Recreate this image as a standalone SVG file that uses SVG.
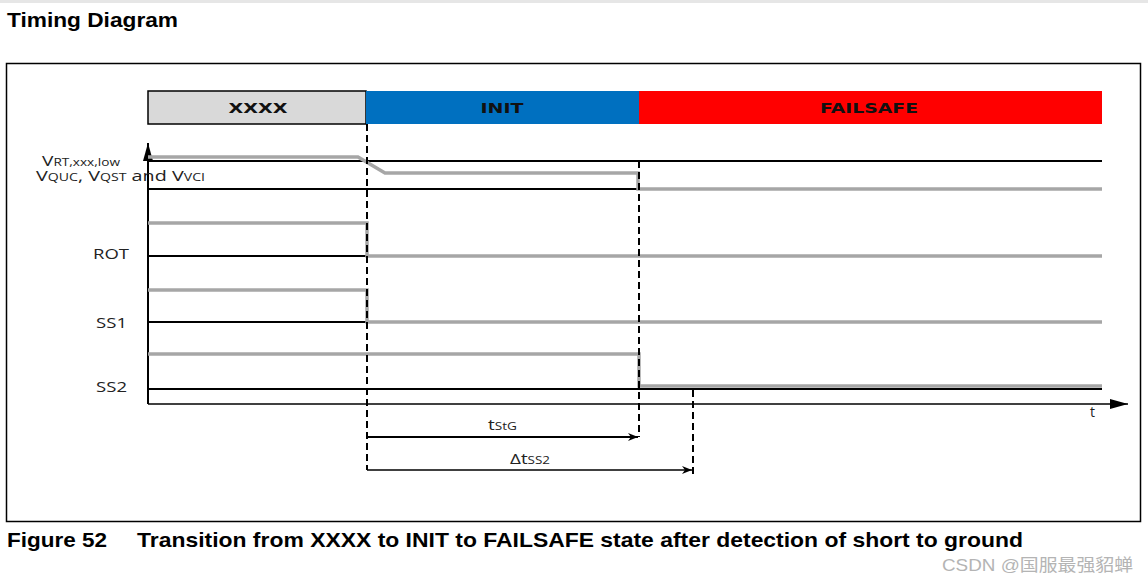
<svg xmlns="http://www.w3.org/2000/svg" width="1148" height="583" viewBox="0 0 1148 583">
<style>
.blk{stroke:#000;stroke-width:2;fill:none}
.sig{stroke:#a6a6a6;stroke-width:3.5;fill:none;stroke-linejoin:miter}
.dash{stroke:#000;stroke-width:2;stroke-dasharray:7,4;fill:none}
.state{font-family:"DejaVu Sans",Verdana,sans-serif;font-weight:bold;font-size:14px;fill:#111;text-anchor:middle}
.lbl{font-family:"Open Sans","Noto Sans",sans-serif;font-size:14px;fill:#222}
.sub{font-size:10px}
.hd{font-family:"Liberation Sans",Arial,sans-serif;font-weight:bold;font-size:21px;fill:#000}
</style>
<defs>
<marker id="ah" markerWidth="10" markerHeight="8" refX="10" refY="4" orient="auto" markerUnits="userSpaceOnUse">
<path d="M0,0 L10,4 L0,8 L3,4 Z" fill="#000"/>
</marker>
<marker id="ahBig" markerWidth="18" markerHeight="10" refX="18" refY="5" orient="auto" markerUnits="userSpaceOnUse">
<path d="M0,0 L18,5 L0,10 Z" fill="#000"/>
</marker>
</defs>
<rect width="1148" height="583" fill="#fff"/>
<rect x="0" y="0" width="1148" height="3" fill="#e6e6e6"/>
<text class="hd" x="7" y="27" textLength="171" lengthAdjust="spacingAndGlyphs">Timing Diagram</text>
<rect x="6.5" y="63.5" width="1134" height="458" fill="none" stroke="#000" stroke-width="1.5"/>

<g id="state-xxxx">
<rect x="148" y="91" width="218" height="33" fill="#d9d9d9" stroke="#000" stroke-width="1.5"/>
<text class="state" x="258" y="113" textLength="59" lengthAdjust="spacingAndGlyphs">XXXX</text>
</g>
<g id="state-init">
<rect x="366" y="91" width="273" height="33" fill="#0070c0"/>
<text class="state" x="502" y="113" textLength="43" lengthAdjust="spacingAndGlyphs">INIT</text>
</g>
<g id="state-failsafe">
<rect x="639" y="91" width="463" height="33" fill="#ff0000"/>
<text class="state" x="869" y="113" textLength="98" lengthAdjust="spacingAndGlyphs">FAILSAFE</text>
</g>

<g id="axes">
<line class="blk" x1="148" y1="404" x2="148" y2="143" marker-end="url(#ahBig)"/>
<line x1="148" y1="404" x2="1128" y2="404" stroke="#000" stroke-width="1.5" marker-end="url(#ahBig)"/>
<text class="lbl" x="1090" y="417">t</text>
</g>

<g id="reference-lines">
<line class="blk" x1="148" y1="161" x2="1102" y2="161"/>
<line class="blk" x1="148" y1="189" x2="639" y2="189"/>
<line class="blk" x1="148" y1="256" x2="1102" y2="256"/>
<line class="blk" x1="148" y1="322" x2="1102" y2="322"/>
<line class="blk" x1="148" y1="389" x2="1102" y2="389"/>
</g>

<g id="signal-v">
<polyline class="sig" points="148,157 358,157 385,173 638,173 638,189 1102,189" stroke-width="3"/>
</g>
<g id="signal-rot">
<polyline class="sig" points="148,223 367,223 367,256 1102,256"/>
</g>
<g id="signal-ss1">
<polyline class="sig" points="148,290 367,290 367,322 1102,322"/>
</g>
<g id="signal-ss2">
<polyline class="sig" points="148,354 639,354 639,386 1102,386"/>
</g>

<g id="labels">
<text class="lbl" x="42" y="166" font-size="15" textLength="78" lengthAdjust="spacingAndGlyphs">V<tspan class="sub" font-size="11">RT,xxx,low</tspan></text>
<text class="lbl" x="36" y="181" font-size="15" textLength="169" lengthAdjust="spacingAndGlyphs">V<tspan class="sub" font-size="11">QUC</tspan>, V<tspan class="sub" font-size="11">QST</tspan> and V<tspan class="sub" font-size="11">VCI</tspan></text>
<text class="lbl" x="93" y="259" textLength="36" lengthAdjust="spacingAndGlyphs">ROT</text>
<text class="lbl" x="96" y="328" textLength="31" lengthAdjust="spacingAndGlyphs">SS1</text>
<text class="lbl" x="96" y="392" textLength="31" lengthAdjust="spacingAndGlyphs">SS2</text>
</g>

<g id="connectors">
<line class="dash" x1="367" y1="124" x2="367" y2="470"/>
<line class="dash" x1="639" y1="161" x2="639" y2="437"/>
<line class="dash" x1="693" y1="390" x2="693" y2="477" stroke-width="3"/>
<line x1="367" y1="437" x2="638" y2="437" stroke="#000" stroke-width="2" marker-end="url(#ah)"/>
<line x1="367" y1="470" x2="692" y2="470" stroke="#000" stroke-width="1.3" marker-end="url(#ah)"/>
<text class="lbl" x="488" y="430" font-size="16" textLength="29" lengthAdjust="spacingAndGlyphs">t<tspan class="sub" font-size="11">StG</tspan></text>
<text class="lbl" x="510" y="464" font-size="16" textLength="40" lengthAdjust="spacingAndGlyphs">Δt<tspan class="sub" font-size="11">SS2</tspan></text>
</g>

<text class="hd" x="7" y="547" textLength="100" lengthAdjust="spacingAndGlyphs">Figure 52</text>
<text class="hd" x="137" y="547" textLength="886" lengthAdjust="spacingAndGlyphs">Transition from XXXX to INIT to FAILSAFE state after detection of short to ground</text>
<text x="942" y="571" font-family="'Liberation Sans','Noto Sans CJK SC',sans-serif" font-size="17" fill="#b4b4b4" textLength="191" lengthAdjust="spacingAndGlyphs">CSDN @国服最强貂蝉</text>
</svg>
